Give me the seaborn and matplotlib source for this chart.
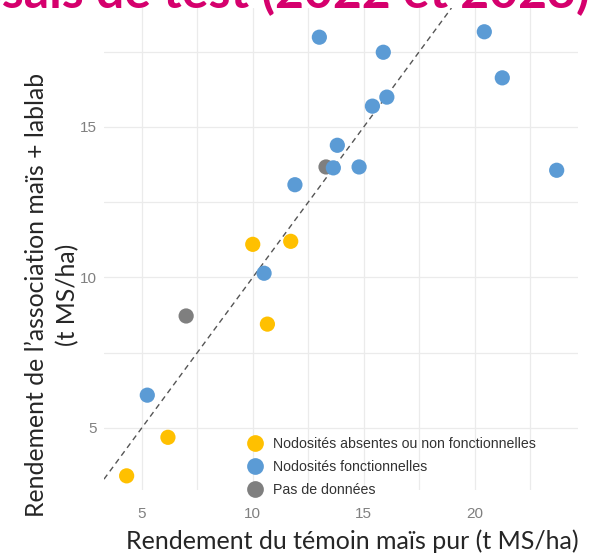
import pandas as pd
import matplotlib.pyplot as plt
import seaborn as sns

# Rendement (t MS/ha)
groups = ['Nodosités absentes ou non fonctionnelles', 'Nodosités fonctionnelles', 'Pas de données']
colors = ['#FFC000', '#5B9BD5', '#7F7F7F']

gray_x = [13.30, 7.0]
gray_y = [13.67, 8.72]
yellow_x = [10.0, 11.71, 10.66, 6.18, 4.32]
yellow_y = [11.1, 11.2, 8.45, 4.69, 3.41]
blue_x = [13.0, 13.81, 13.63, 11.9, 20.43, 15.88, 21.24, 16.04, 15.39, 14.79, 23.69, 10.51, 5.25]
blue_y = [17.98, 14.39, 13.64, 13.08, 18.16, 17.48, 16.63, 15.99, 15.69, 13.67, 13.56, 10.14, 6.09]

x_ticks = [5, 10, 15, 20]
y_ticks = [5, 10, 15]

# gray first so the blue dots sit on top of it
df = pd.concat([
    pd.DataFrame({'temoin': gray_x, 'asso': gray_y, 'groupe': groups[2]}),
    pd.DataFrame({'temoin': yellow_x, 'asso': yellow_y, 'groupe': groups[0]}),
    pd.DataFrame({'temoin': blue_x, 'asso': blue_y, 'groupe': groups[1]}),
], ignore_index=True)

sns.set_style("white")
plt.rcParams['font.family'] = ['Liberation Sans', 'DejaVu Sans']

fig = plt.figure(figsize=(5.9, 5.59), dpi=100)
W, H = 590, 559
ax = fig.add_axes([104 / W, 1 - 490 / H, (578 - 104) / W, (490 - 8) / H])

sns.scatterplot(data=df, x='temoin', y='asso', hue='groupe', hue_order=groups,
                palette=colors, s=120, edgecolor='none', linewidth=0, alpha=1,
                ax=ax, zorder=3)

# 1:1 line
ax.axline((5, 5), slope=1, color='#555555', linestyle=(0, (4, 3)), linewidth=1.0, zorder=2)

ax.set_xlim(3.3, 24.65)
ax.set_ylim(2.94, 18.95)
ax.set_xticks(x_ticks)
ax.set_yticks(y_ticks)
ax.set_xticks([7.5, 12.5, 17.5, 22.5], minor=True)
ax.set_yticks([7.5, 12.5, 17.5], minor=True)
ax.grid(True, which='both', color='#ebebeb', linewidth=0.9)
ax.set_axisbelow(True)
for sp in ax.spines.values():
    sp.set_visible(False)
ax.tick_params(which='both', length=0, labelsize=11, labelcolor='#808080')
ax.tick_params(axis='x', pad=12)
ax.tick_params(axis='y', pad=5)
ax.set_xlabel('')
ax.set_ylabel('')

leg = ax.legend(loc='upper left', bbox_to_anchor=(234 / W, 1 - 430 / H),
                bbox_transform=fig.transFigure, frameon=False, fontsize=10.2,
                handletextpad=0.25, labelspacing=0.62, borderpad=0, markerscale=1.1)
for t in leg.get_texts():
    t.set_color('#333333')

fig.text(352 / W, 1 - 541 / H, 'Rendement du témoin maïs pur (t MS/ha)',
         ha='center', va='center', fontsize=18, family=['Lato', 'DejaVu Sans'])
fig.text(52 / W, 1 - 295 / H, 'Rendement de l’association maïs + lablab\n(t MS/ha)',
         ha='center', va='center', rotation=90, multialignment='center',
         fontsize=17.8, linespacing=1.38, family=['Lato', 'DejaVu Sans'])

# slide title, only its lower part shows in the screenshot
fig.text(590 / W, 1 - 8 / H, 'Essais de test (2022 et 2023)', ha='right', va='baseline',
         fontsize=36, fontweight='bold', color='#D5006D', family=['Lato', 'DejaVu Sans'])

fig.savefig('out.png', dpi=100)
